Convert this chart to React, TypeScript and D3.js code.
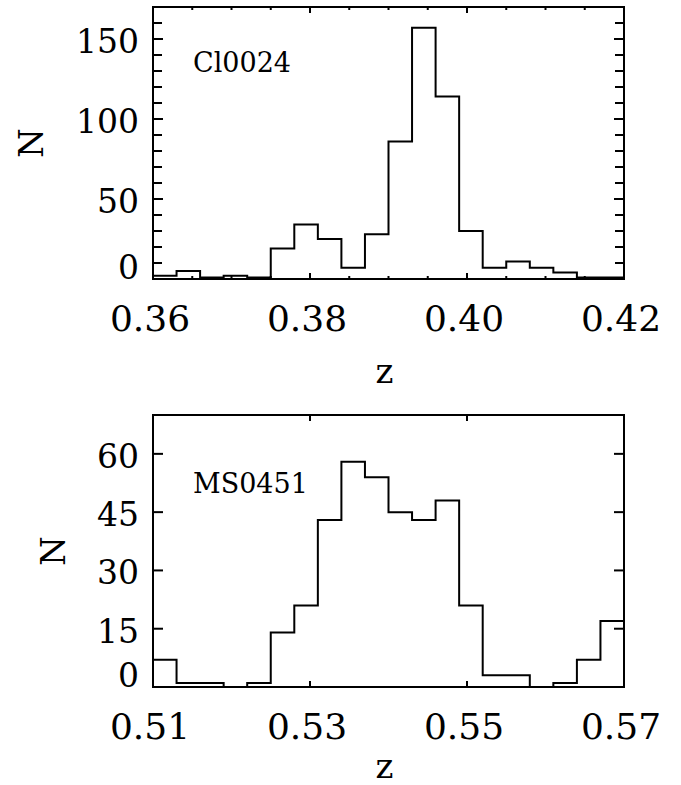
import React, { useRef, useEffect } from 'react';
import * as d3 from 'd3';

// Cl0024 redshift histogram: lower bin edges and counts (bin width 0.003)
const clBinLo = [0.360, 0.363, 0.366, 0.369, 0.372, 0.375, 0.378, 0.381, 0.384, 0.387,
  0.390, 0.393, 0.396, 0.399, 0.402, 0.405, 0.408, 0.411, 0.414, 0.417];
const clCounts = [2, 5, 1, 2, 1, 19, 34, 25, 7, 28, 86, 157, 114, 30, 7, 11, 7, 4, 1, 1];
const clXTicks = [0.36, 0.38, 0.40, 0.42];
const clYTicks = [0, 50, 100, 150];

// MS0451 redshift histogram
const msBinLo = [0.510, 0.513, 0.516, 0.519, 0.522, 0.525, 0.528, 0.531, 0.534, 0.537,
  0.540, 0.543, 0.546, 0.549, 0.552, 0.555, 0.558, 0.561, 0.564, 0.567];
const msCounts = [7, 1, 1, 0, 1, 14, 21, 43, 58, 54, 45, 43, 48, 21, 3, 3, 0, 1, 7, 17];
const msXTicks = [0.51, 0.53, 0.55, 0.57];
const msYTicks = [0, 15, 30, 45, 60];

const binWidth = 0.003;
const font = "'DejaVu Serif', serif";

function drawPanel(svg, p) {
  const w = p.width, h = p.height;
  const g = svg.append("g").attr("transform", "translate(" + p.left + "," + p.top + ")");

  const x = d3.scaleLinear().domain(p.xDomain).range([0, w]);
  const y = d3.scaleLinear().domain(p.yDomain).range([h, 0]);

  const clipId = "clip-" + p.name;
  g.append("clipPath").attr("id", clipId)
    .append("rect").attr("x", 0).attr("y", 0).attr("width", w).attr("height", h);

  // histogram as a step line
  const pts = p.binLo.map((b, i) => [b, p.counts[i]]);
  const last = pts[pts.length - 1];
  pts.push([last[0] + binWidth, last[1]]);
  const line = d3.line()
    .x(d => x(d[0]))
    .y(d => y(d[1]))
    .curve(d3.curveStepAfter);
  g.append("path")
    .attr("d", line(pts))
    .attr("fill", "none")
    .attr("stroke", "black")
    .attr("stroke-width", 2)
    .attr("clip-path", "url(#" + clipId + ")");

  // frame
  g.append("rect")
    .attr("x", 0).attr("y", 0).attr("width", w).attr("height", h)
    .attr("fill", "none").attr("stroke", "black").attr("stroke-width", 2);

  // x ticks (bottom + top)
  const xMinor = p.minor ? x.ticks(12) : [];
  xMinor.forEach(t => {
    g.append("line").attr("x1", x(t)).attr("x2", x(t)).attr("y1", h).attr("y2", h - 3)
      .attr("stroke", "black").attr("stroke-width", 2);
    g.append("line").attr("x1", x(t)).attr("x2", x(t)).attr("y1", 0).attr("y2", 3)
      .attr("stroke", "black").attr("stroke-width", 2);
  });
  p.xTicks.forEach(t => {
    g.append("line").attr("x1", x(t)).attr("x2", x(t)).attr("y1", h).attr("y2", h - 6)
      .attr("stroke", "black").attr("stroke-width", 2);
    g.append("line").attr("x1", x(t)).attr("x2", x(t)).attr("y1", 0).attr("y2", 6)
      .attr("stroke", "black").attr("stroke-width", 2);
    g.append("text")
      .attr("x", x(t) - 3).attr("y", h + 52)
      .attr("text-anchor", "middle")
      .attr("font-family", font).attr("font-size", 36)
      .text(d3.format(".2f")(t));
  });

  // y ticks (left + right)
  const yMinor = p.minor ? y.ticks(17) : [];
  yMinor.forEach(t => {
    g.append("line").attr("x1", 0).attr("x2", 9).attr("y1", y(t)).attr("y2", y(t))
      .attr("stroke", "black").attr("stroke-width", 2);
    g.append("line").attr("x1", w).attr("x2", w - 9).attr("y1", y(t)).attr("y2", y(t))
      .attr("stroke", "black").attr("stroke-width", 2);
  });
  p.yTicks.forEach(t => {
    g.append("line").attr("x1", 0).attr("x2", 10).attr("y1", y(t)).attr("y2", y(t))
      .attr("stroke", "black").attr("stroke-width", 2);
    g.append("line").attr("x1", w).attr("x2", w - 10).attr("y1", y(t)).attr("y2", y(t))
      .attr("stroke", "black").attr("stroke-width", 2);
    g.append("text")
      .attr("x", -14)
      .attr("y", t === 0 ? h : y(t) + 14)   // zero label sits on the frame bottom
      .attr("text-anchor", "end")
      .attr("font-family", font).attr("font-size", 33)
      .text(t);
  });

  // axis titles
  g.append("text")
    .attr("x", w / 2 - 4).attr("y", h + p.zOffset)
    .attr("text-anchor", "middle")
    .attr("font-family", font).attr("font-size", 34)
    .text("z");
  g.append("text")
    .attr("transform", "translate(" + (p.nX - p.left) + "," + (h / 2) + ") rotate(-90)")
    .attr("text-anchor", "middle")
    .attr("font-family", font).attr("font-size", 34)
    .text("N");

  // cluster name
  g.append("text")
    .attr("x", 40).attr("y", p.nameY)
    .attr("font-family", font).attr("font-size", 27)
    .text(p.name);
}

function App() {
  const ref = useRef(null);

  useEffect(() => {
    const svg = d3.select(ref.current);
    svg.selectAll("*").remove();

    drawPanel(svg, {
      name: "Cl0024", left: 153, top: 7, width: 471, height: 272,
      xDomain: [0.36, 0.42], yDomain: [0, 170],
      binLo: clBinLo, counts: clCounts, xTicks: clXTicks, yTicks: clYTicks,
      minor: true, zOffset: 104, nX: 43, nameY: 65
    });
    drawPanel(svg, {
      name: "MS0451", left: 153, top: 415, width: 471, height: 272,
      xDomain: [0.51, 0.57], yDomain: [0, 70],
      binLo: msBinLo, counts: msCounts, xTicks: msXTicks, yTicks: msYTicks,
      minor: false, zOffset: 91, nX: 65, nameY: 78
    });
  }, []);

  return (
    <div style={{ position: "absolute", left: 0, top: 0, width: 681, height: 785, background: "white" }}>
      <svg ref={ref} width={681} height={785}></svg>
    </div>
  );
}

export default App;
